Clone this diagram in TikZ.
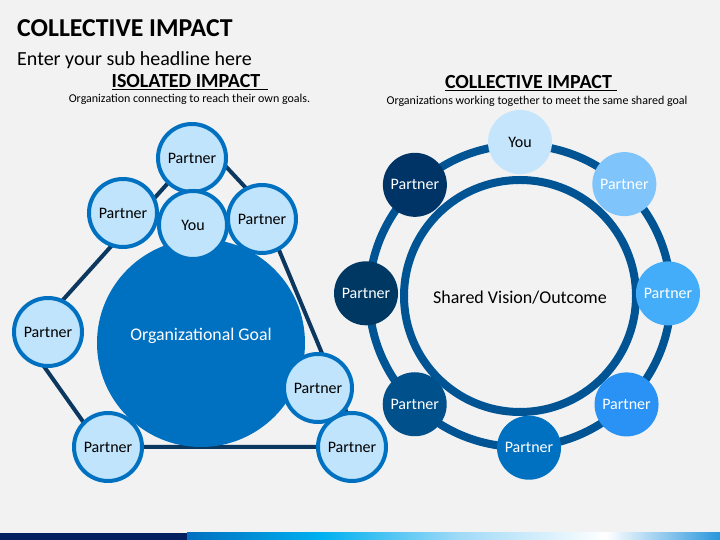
\documentclass[tikz,border=0pt]{standalone}
\usepackage{fontspec}
\setmainfont{Carlito}
\usetikzlibrary{positioning}
\definecolor{bgray}{HTML}{F2F2F2}
\definecolor{bluemain}{RGB}{0,112,192}
\definecolor{partnerfill}{RGB}{192,228,252}
\definecolor{linkblue}{RGB}{12,56,96}
\definecolor{ringblue}{RGB}{0,84,147}
\definecolor{navybar}{RGB}{0,32,96}
\definecolor{cyanbar}{RGB}{0,176,240}
\definecolor{lightbar}{RGB}{160,218,247}
\definecolor{endbar}{RGB}{40,150,220}
\definecolor{mOne}{RGB}{197,229,253}
\definecolor{mTwo}{RGB}{127,196,250}
\definecolor{mThree}{RGB}{68,173,250}
\definecolor{mFour}{RGB}{42,146,245}
\definecolor{mFive}{RGB}{0,112,192}
\definecolor{mSix}{RGB}{0,80,140}
\definecolor{mSeven}{RGB}{0,56,100}
\definecolor{mEight}{RGB}{0,51,102}
\tikzset{
    partner/.style={
           circle,
           draw=bluemain, line width=4pt,
           fill=partnerfill,
           minimum size=68pt, inner sep=0pt,
           text centered,
           font=\fontsize{16}{19}\selectfont,
           },
    member/.style={
           circle,
           minimum size=64pt, inner sep=0pt,
           text=white,
           font=\fontsize{16}{19}\selectfont,
           },
    goal/.style={circle, fill=bluemain, minimum size=208pt, inner sep=0pt},
    ring/.style={draw=ringblue, line width=8pt},
    link/.style={draw=linkblue, line width=4pt, line join=round},
    heading/.style={anchor=base, font=\fontsize{20}{24}\selectfont\bfseries},
    caption/.style={anchor=base, font=\fontsize{12}{14}\selectfont},
}

\begin{document}
\begin{tikzpicture}[x=1pt,y=1pt]
	\useasboundingbox (0,0) rectangle (720,540);
	\fill[bgray] (0,0) rectangle (720,540);

	% bottom bar
	\fill[navybar] (0,0) rectangle (187,7);
	\shade[left color=bluemain,right color=cyanbar] (187,0) rectangle (321,7);
	\shade[left color=cyanbar,right color=lightbar] (321,0) rectangle (459,7);
	\shade[left color=lightbar,right color=white] (459,0) rectangle (606,7);
	\shade[left color=white,right color=endbar] (606,0) rectangle (720,7);

	% titles
	\node[anchor=base west,inner sep=0pt,font=\fontsize{25.8}{30}\selectfont\bfseries] (title) at (17,503) {COLLECTIVE IMPACT};
	\node[anchor=base west,inner sep=0pt,font=\fontsize{20}{24}\selectfont] (subtitle) at (17,474) {Enter your sub headline here};
	\node[heading] (headL) at (190,452) {\underline{ISOLATED IMPACT\hspace{8pt}}};
	\node[caption] (capL) at (189.5,437) {Organization connecting to reach their own goals.};
	\node[heading] (headR) at (531,451) {\underline{COLLECTIVE IMPACT\hspace{5pt}}};
	\node[caption] (capR) at (537,435) {Organizations working together to meet the same shared goal};

	% isolated impact
	\coordinate (v1) at (204,397);
	\coordinate (v2) at (259,338);
	\coordinate (v3) at (361,93);
	\coordinate (v4) at (101,93);
	\coordinate (v5) at (26,199);
	\draw[link] (v1) -- (v2) -- (v3) -- (v4) -- (v5) -- cycle;

	\node[goal] (goal) at (201,197) {};
	\node[text=white,font=\fontsize{17.8}{21}\selectfont] (goallabel) at ([yshift=7pt]goal.center) {Organizational Goal};

	\node[partner] (I1) at (192,382) {Partner};
	\node[partner] (I2) at (123,327) {Partner};
	\node[partner] (IYou) at (193,315) {You};
	\node[partner] (I3) at (262,321) {Partner};
	\node[partner] (I4) at (48,208) {Partner};
	\node[partner] (I5) at (108,93) {Partner};
	\node[partner] (I6) at (318,152) {Partner};
	\node[partner] (I7) at (352,93) {Partner};

	% collective impact
	\coordinate (ring) at (520,244);
	\draw[ring] (ring) circle (151);
	\draw[ring] (ring) circle (116);
	\node[font=\fontsize{18}{21}\selectfont] (vision) at ([yshift=-2pt]ring) {Shared Vision/Outcome};

	\node[member,fill=mOne,text=black] (CYou) at ([shift={(90:154)}]ring) {You};
	\node[member,fill=mTwo]   (C1) at ([shift={(47:153)}]ring) {Partner};
	\node[member,fill=mThree] (C2) at ([shift={(1:148)}]ring) {Partner};
	\node[member,fill=mFour]  (C3) at ([shift={(-45.5:152)}]ring) {Partner};
	\node[member,fill=mFive]  (C4) at ([shift={(-86.6:152)}]ring) {Partner};
	\node[member,fill=mSix]   (C5) at ([shift={(-134.2:151)}]ring) {Partner};
	\node[member,fill=mSeven] (C6) at ([shift={(179:154)}]ring) {Partner};
	\node[member,fill=mEight] (C7) at ([shift={(133.4:153)}]ring) {Partner};

\end{tikzpicture}
\end{document}
